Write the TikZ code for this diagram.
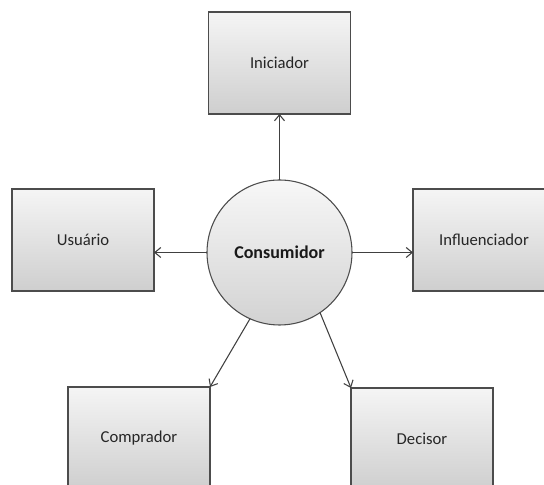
\documentclass[tikz,border=0pt]{standalone}
\usepackage{fontspec}
\setmainfont{Carlito}
\usepackage{tikz}
\usetikzlibrary{arrows,arrows.meta,positioning,shadows}

\begin{document}
\begin{tikzpicture}[y=0.75pt, x=0.75pt, yscale=1, xscale=1, inner sep=0pt, outer sep=0pt,
->,>={Straight Barb[length=4.5pt,width=7.5pt]}, on grid, font=\fontsize{12.5}{15}\selectfont,
trans/.style={color=black!75, line width=0.8pt},
papel/.style={rectangle, draw=black!70, line width=0.8pt, top color=gray!8, bottom color=gray!38,
  minimum width=106.5pt, minimum height=76.5pt, text=black!85,
  drop shadow={shadow xshift=0.6pt, shadow yshift=-0.9pt, opacity=0.35}},
centro/.style={circle, draw=black!70, line width=0.8pt, top color=gray!6, bottom color=gray!35,
  minimum size=108.75pt, font=\fontsize{13.5}{16}\selectfont\bfseries, text=black!90}]
\useasboundingbox (0,0) rectangle (544,485);
\clip (0,0) rectangle (544,485);
\node[centro] (C) at (279.5,232.5) {Consumidor};
\node[papel](Ini)[above = 189.5 of C] {Iniciador};
\node[papel](Usu)[above left = 12.5 and 196.5 of C] {Usuário};
\node[papel](Inf)[above right = 12.5 and 204.5 of C] {Influenciador};
\node[papel](Com)[below left = 185.5 and 140.5 of C] {Comprador};
\node[papel](Dec)[below right = 186.5 and 142.5 of C] {Decisor};
\path[trans]
(C) edge (Ini)
(C.west) edge (C.west -| Usu.east)
(C.east) edge (C.east -| Inf.west)
(C.246) edge (Com.north east)
(C.304) edge (Dec.north west)
;
\end{tikzpicture}
\end{document}
